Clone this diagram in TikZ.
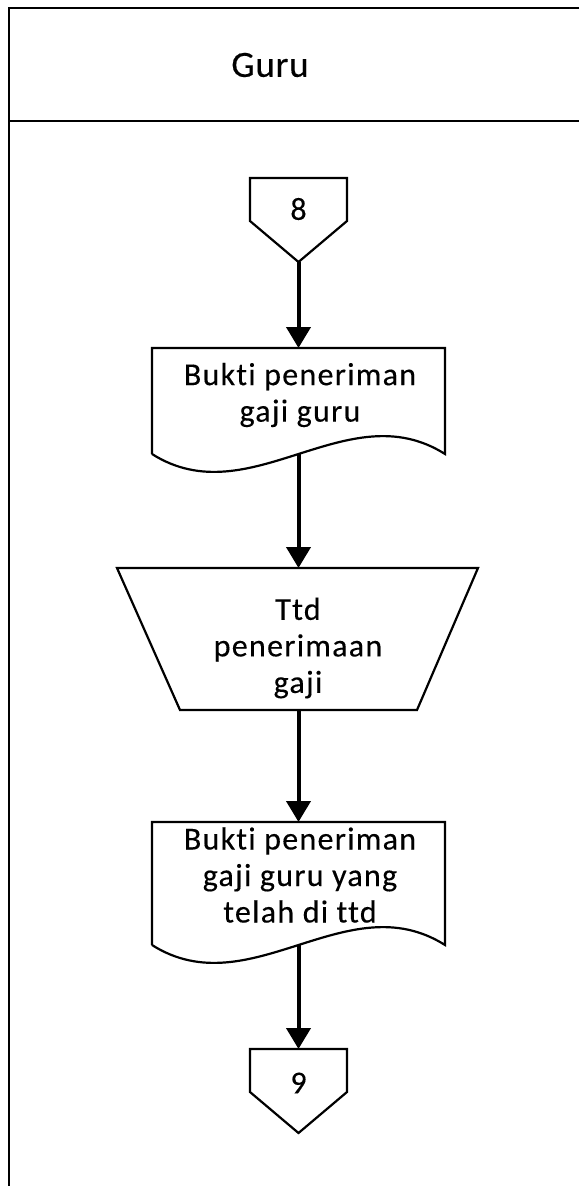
\documentclass[tikz,border=0pt]{standalone}
\usepackage{fontspec}
\setmainfont{Carlito}[LetterSpace=4, Ligatures=CommonOff, FakeBold=0.25]
\usetikzlibrary{arrows.meta}

\begin{document}
\begin{tikzpicture}[x=1pt,y=-1pt]
\tikzstyle{every node}+=[inner sep=0pt, align=center, font=\fontsize{32}{36.5}\selectfont]
\tikzstyle{outline}=[black, line width=2.2pt]
\tikzstyle{flow}=[black, line width=4pt, -{Triangle[length=21pt,width=24pt]}]
\useasboundingbox (0,0) rectangle (579,1186);
% lane
\draw [outline] (579,8) -- (9,8) -- (9,1186);
\draw [outline] (9,121) -- (579,121);
\node (lane) at (270,65) {\fontsize{37}{44}\selectfont\addfontfeature{LetterSpace=2}Guru};
% connector 8
\draw [outline] (250,178) -- (347,178) -- (347,221) -- (298.5,262) -- (250,221) -- cycle;
\node (c8) at (298.5,209) {8};
\coordinate (c8b) at (298.5,262);
% bukti penerimaan
\draw [outline] (152,454) -- (152,348) -- (445,348) -- (445,454) .. controls (347,392) and (250,516) .. (152,454);
\node (doc1) at (300,395) {Bukti peneriman\\gaji guru};
\coordinate (doc1t) at (298.5,348);
\coordinate (doc1b) at (298.5,454);
% ttd
\draw [outline] (117,568) -- (478,568) -- (417,710) -- (180,710) -- cycle;
\node (ttd) at (298,648) {Ttd\\penerimaan\\gaji};
\coordinate (ttdt) at (298.5,568);
\coordinate (ttdb) at (298.5,710);
% bukti yang telah di ttd
\draw [outline] (152,945) -- (152,822) -- (445,822) -- (445,945) .. controls (347,883) and (250,1007) .. (152,945);
\node (doc2) at (300,875) {Bukti peneriman\\gaji guru yang\\telah di ttd};
\coordinate (doc2t) at (298.5,822);
\coordinate (doc2b) at (298.5,945);
% connector 9
\draw [outline] (250,1049) -- (347,1049) -- (347,1092) -- (298.5,1133) -- (250,1092) -- cycle;
\node (c9) at (298.5,1083) {9};
\coordinate (c9t) at (298.5,1049);
% arrows
\draw [flow] (c8b) -- (doc1t);
\draw [flow] (doc1b) -- (ttdt);
\draw [flow] (ttdb) -- (doc2t);
\draw [flow] (doc2b) -- (c9t);
\end{tikzpicture}
\end{document}
